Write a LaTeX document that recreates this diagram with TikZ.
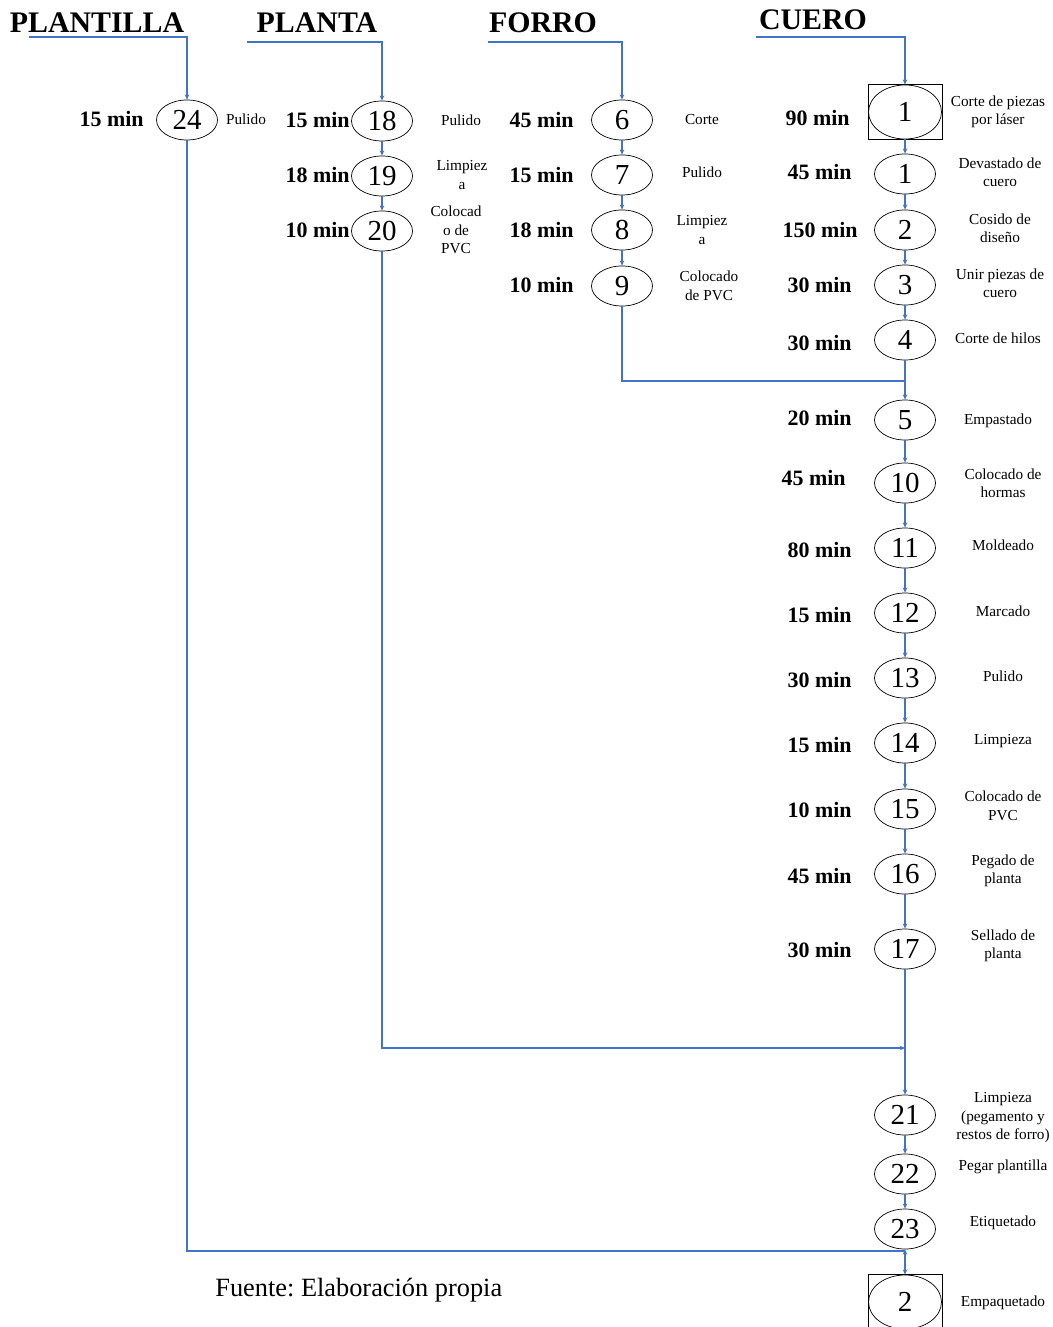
\documentclass[tikz,border=0pt]{standalone}
\usepackage{fontspec}
\setmainfont{Liberation Serif}
\usetikzlibrary{shapes.geometric,arrows.meta}
\frenchspacing

\definecolor{azul}{HTML}{4472C4}

\tikzset{
    num/.style={draw, ellipse, inner sep=0pt, minimum width=1.22cm, minimum height=0.8cm,
        font=\fontsize{16.5}{18}\selectfont},
    numbox/.style={num, minimum width=1.46cm, minimum height=1.08cm},
    tmin/.style={inner sep=0pt, anchor=east, font=\fontsize{12.5}{14}\selectfont\bfseries},
    desc/.style={inner sep=0pt, align=center, font=\fontsize{8.7}{10.5}\selectfont},
    hdr/.style={inner sep=0pt, font=\fontsize{17}{20}\selectfont\bfseries},
    flujo/.style={draw=azul, line width=0.6pt},
    flecha/.style={flujo, -{Stealth[length=3pt,width=2.6pt]}},
}

\begin{document}
\begin{tikzpicture}[x=0.02cm, y=-0.02cm]
    \useasboundingbox (0,0) rectangle (1052,1327);

    % columnas
    \pgfmathsetmacro{\xA}{187}
    \pgfmathsetmacro{\xB}{382}
    \pgfmathsetmacro{\xC}{622}
    \pgfmathsetmacro{\xD}{905}

    % encabezados
    \node[hdr] (hPlantilla) at (97,23) {PLANTILLA};
    \node[hdr] (hPlanta) at (317,23) {PLANTA};
    \node[hdr] (hForro) at (543,23) {FORRO};
    \node[hdr] (hCuero) at (813,20) {CUERO};
    \coordinate (sA) at (29,37);
    \coordinate (sB) at (247,42);
    \coordinate (sC) at (488,42);
    \coordinate (sD) at (756,37);

    % plantilla
    \node[num] (p24) at (\xA,120) {24};
    \node[tmin] (m24) at (144,119) {15 min};
    \node[desc] (d24) at (246,119) {Pulido};

    % planta
    \node[num] (t18) at (\xB,121) {18};
    \node[num] (t19) at (\xB,176) {19};
    \node[num] (t20) at (\xB,231) {20};
    \node[tmin] (m18) at (350,120) {15 min};
    \node[tmin] (m19) at (350,175) {18 min};
    \node[tmin] (m20) at (350,230) {10 min};
    \node[desc] (d18) at (461,120) {Pulido};
    \node[desc] (d19) at (462,175) {Limpiez\\a};
    \node[desc] (d20) at (456,230) {Colocad\\o de\\PVC};

    % forro
    \node[num] (f6) at (\xC,120) {6};
    \node[num] (f7) at (\xC,175) {7};
    \node[num] (f8) at (\xC,230) {8};
    \node[num] (f9) at (\xC,286) {9};
    \node[tmin] (m6) at (574,120) {45 min};
    \node[tmin] (m7) at (574,175) {15 min};
    \node[tmin] (m8) at (574,230) {18 min};
    \node[tmin] (m9) at (574,285) {10 min};
    \node[desc] (d6) at (702,120) {Corte};
    \node[desc] (d7) at (702,172) {Pulido};
    \node[desc] (d8) at (702,230) {Limpiez\\a};
    \node[desc] (d9) at (709,286) {Colocado\\de PVC};

    % cuero
    \node[numbox] (c1) at (\xD,112) {1};
    \draw (c1.west |- c1.north) rectangle (c1.east |- c1.south);
    \node[num] (c1b) at (\xD,174) {1};
    \node[num] (c2) at (\xD,230) {2};
    \node[num] (c3) at (\xD,285) {3};
    \node[num] (c4) at (\xD,340) {4};
    \node[num] (c5) at (\xD,420) {5};
    \node[num] (c10) at (\xD,483) {10};
    \node[num] (c11) at (\xD,548) {11};
    \node[num] (c12) at (\xD,613) {12};
    \node[num] (c13) at (\xD,678) {13};
    \node[num] (c14) at (\xD,743) {14};
    \node[num] (c15) at (\xD,809) {15};
    \node[num] (c16) at (\xD,874) {16};
    \node[num] (c17) at (\xD,949) {17};
    \node[num] (c21) at (\xD,1115) {21};
    \node[num] (c22) at (\xD,1174) {22};
    \node[num] (c23) at (\xD,1229) {23};
    \node[numbox] (e2) at (\xD,1302) {2};
    \draw (e2.west |- e2.north) rectangle (e2.east |- e2.south);

    \node[tmin] (mc1) at (850,118) {90 min};
    \node[tmin] (mc1b) at (852,172) {45 min};
    \node[tmin] (mc2) at (858,230) {150 min};
    \node[tmin] (mc3) at (852,285) {30 min};
    \node[tmin] (mc4) at (852,343) {30 min};
    \node[tmin] (mc5) at (852,418) {20 min};
    \node[tmin] (mc10) at (846,478) {45 min};
    \node[tmin] (mc11) at (852,550) {80 min};
    \node[tmin] (mc12) at (852,615) {15 min};
    \node[tmin] (mc13) at (852,680) {30 min};
    \node[tmin] (mc14) at (852,745) {15 min};
    \node[tmin] (mc15) at (852,810) {10 min};
    \node[tmin] (mc16) at (852,876) {45 min};
    \node[tmin] (mc17) at (852,950) {30 min};

    \node[desc] (dc1) at (998,112) {Corte de piezas\\por láser};
    \node[desc] (dc1b) at (1000,172) {Devastado de\\cuero};
    \node[desc] (dc2) at (1000,228) {Cosido de\\diseño};
    \node[desc] (dc3) at (1000,283) {Unir piezas de\\cuero};
    \node[desc] (dc4) at (998,338) {Corte de hilos};
    \node[desc] (dc5) at (998,421) {Empastado};
    \node[desc] (dc10) at (1003,483) {Colocado de\\hormas};
    \node[desc] (dc11) at (1003,545) {Moldeado};
    \node[desc] (dc12) at (1003,611) {Marcado};
    \node[desc] (dc13) at (1003,676) {Pulido};
    \node[desc] (dc14) at (1003,741) {Limpieza};
    \node[desc] (dc15) at (1003,806) {Colocado de\\PVC};
    \node[desc] (dc16) at (1003,871) {Pegado de\\planta};
    \node[desc] (dc17) at (1003,946) {Sellado de\\planta};
    \node[desc] (dc21) at (1003,1118) {Limpieza\\(pegamento y\\restos de forro)};
    \node[desc] (dc22) at (1003,1167) {Pegar plantilla};
    \node[desc] (dc23) at (1003,1223) {Etiquetado};
    \node[desc] (de2) at (1003,1303) {Empaquetado};

    \node[anchor=west, inner sep=0pt, font=\fontsize{15}{17}\selectfont] (fuente) at (215,1290) {Fuente: Elaboración propia};

    % puntos de union
    \coordinate (jF) at (\xD,381);
    \coordinate (jP) at (\xD,1048);
    \coordinate (jL) at (\xD,1251);

    % flechas de entrada
    \draw[flecha] (sA) -| (p24);
    \draw[flecha] (sB) -| (t18);
    \draw[flecha] (sC) -| (f6);
    \draw[flecha] (sD) -| (c1);

    % secuencias
    \draw[flecha] (t18) -- (t19);
    \draw[flecha] (t19) -- (t20);
    \draw[flecha] (f6) -- (f7);
    \draw[flecha] (f7) -- (f8);
    \draw[flecha] (f8) -- (f9);
    \draw[flecha] (c1) -- (c1b);
    \draw[flecha] (c1b) -- (c2);
    \draw[flecha] (c2) -- (c3);
    \draw[flecha] (c3) -- (c4);
    \draw[flecha] (c4) -- (c5);
    \draw[flecha] (c5) -- (c10);
    \draw[flecha] (c10) -- (c11);
    \draw[flecha] (c11) -- (c12);
    \draw[flecha] (c12) -- (c13);
    \draw[flecha] (c13) -- (c14);
    \draw[flecha] (c14) -- (c15);
    \draw[flecha] (c15) -- (c16);
    \draw[flecha] (c16) -- (c17);
    \draw[flecha] (c17) -- (c21);
    \draw[flecha] (c21) -- (c22);
    \draw[flecha] (c22) -- (c23);

    % uniones con la linea del cuero
    \draw[flujo] (f9) |- (jF);
    \draw[flecha] (t20) |- (jP);
    \draw[flujo] (p24) |- (jL);
    \draw[flecha] (jL) -- (c23);
    \draw[flecha] (jL) -- (e2);

\end{tikzpicture}
\end{document}
